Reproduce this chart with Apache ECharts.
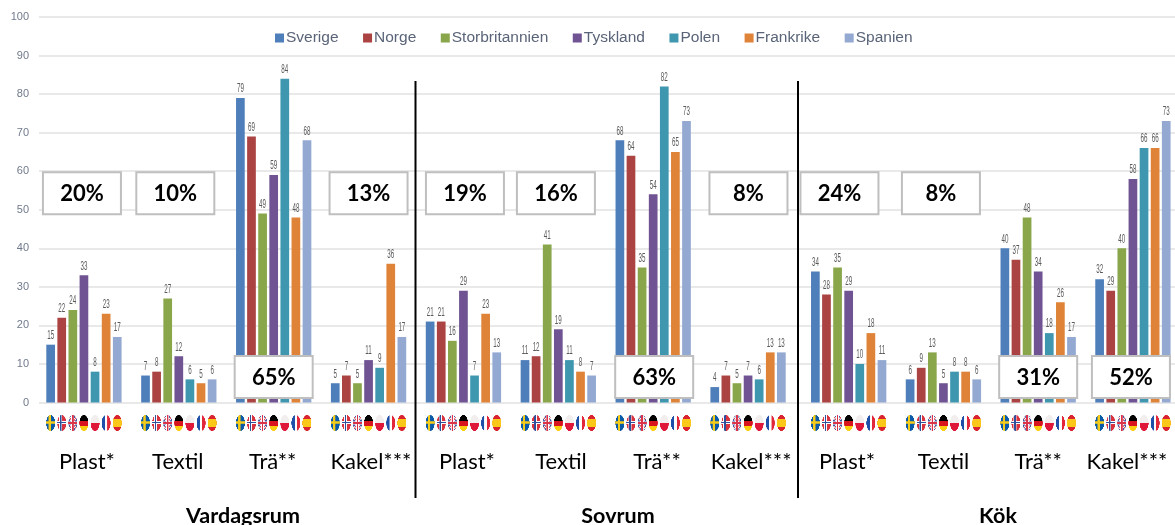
<!DOCTYPE html>
<html>
<head>
<meta charset="utf-8">
<style>html,body{margin:0;padding:0;background:#fff}#chart{width:1175px;height:525px}</style>
<script src="https://cdn.jsdelivr.net/npm/echarts@6/dist/echarts.min.js"></script>
</head>
<body>
<div id="chart"></div>
<script>
// Golvmaterial per rum och land
const materials = ['Plast*','Textil','Trä**','Kakel***','Plast*','Textil','Trä**','Kakel***','Plast*','Textil','Trä**','Kakel***'];
const sverige = [15,7,79,5,21,11,68,4,34,6,40,32];
const norge = [22,8,69,7,21,12,64,7,28,9,37,29];
const storbritannien = [24,27,49,5,16,41,35,5,35,13,48,40];
const tyskland = [33,12,59,11,29,19,54,7,29,5,34,58];
const polen = [8,6,84,9,7,11,82,6,10,8,18,66];
const frankrike = [23,5,48,36,23,8,65,13,18,8,26,66];
const spanien = [17,6,68,17,13,7,73,13,11,6,17,73];
const shares = ['20%','10%','65%','13%','19%','16%','63%','8%','24%','8%','31%','52%'];
const rooms = ['Vardagsrum','Sovrum','Kök'];

const countries = [
  ['Sverige', sverige, '#4f7fbb'],
  ['Norge', norge, '#aa4342'],
  ['Storbritannien', storbritannien, '#89a64a'],
  ['Tyskland', tyskland, '#6f5392'],
  ['Polen', polen, '#3f97af'],
  ['Frankrike', frankrike, '#df8338'],
  ['Spanien', spanien, '#93a9d1']
];

// Placering av procentrutorna: höjd på y-axeln och sidled i pixlar
const boxLevel = [54.3,54.3,6.6,54.3,54.3,54.3,6.6,54.3,54.3,54.3,6.6,6.6];
const boxShift = [-2,-3.5,0,0,1.5,-2.4,1,0.4,-9.2,-2.5,0,-2];
// Materialnamnens förskjutning i sidled, i pixlar
const labelShift = [3,-1,-1,2.4,3.5,2.6,3.8,3,-1.7,0,0,-6];
const roomLabelX = [243,618,998];
const dividerX = [415.5,798];

const BAR = 8.7, STEP = 11.1;
const PLOT_TOP = 17, PLOT_HEIGHT = 385.5;

// Köksdelen ligger något förskjuten, så den får ett eget koordinatsystem
const panels = [
  { from: 0, to: 8, left: 36.5, width: 759 },
  { from: 8, to: 12, left: 801.3, width: 379 }
];

// Runda flaggor ritas på en egen canvas och används som bilder
function flag(paint) {
  const c = document.createElement('canvas');
  c.width = 36; c.height = 64;
  const g = c.getContext('2d');
  g.beginPath();
  g.ellipse(18, 32, 18, 32, 0, 0, Math.PI * 2);
  g.clip();
  paint(g);
  return c;
}
function cross(g, color, w) {
  g.fillStyle = color;
  g.fillRect(14 - w / 2, 0, w, 64);
  g.fillRect(0, 30 - w / 2, 36, w);
}
const flags = [
  flag(g => { g.fillStyle = '#0b5aa8'; g.fillRect(0,0,36,64); cross(g,'#f5cc1a',9); }),
  flag(g => { g.fillStyle = '#d8333f'; g.fillRect(0,0,36,64); cross(g,'#ffffff',12); cross(g,'#2f4f9a',6); }),
  flag(g => {
    g.fillStyle = '#45589f'; g.fillRect(0,0,36,64);
    g.strokeStyle = '#f4f4f8'; g.lineWidth = 8;
    g.beginPath(); g.moveTo(0,0); g.lineTo(36,64); g.moveTo(36,0); g.lineTo(0,64); g.stroke();
    g.strokeStyle = '#d9495a'; g.lineWidth = 3; g.stroke();
    g.fillStyle = '#fff'; g.fillRect(12,0,12,64); g.fillRect(0,26,36,12);
    g.fillStyle = '#d9344a'; g.fillRect(15,0,6,64); g.fillRect(0,29,36,6);
  }),
  flag(g => {
    g.fillStyle = '#000'; g.fillRect(0,0,36,24);
    g.fillStyle = '#d8151f'; g.fillRect(0,24,36,20);
    g.fillStyle = '#fbcf10'; g.fillRect(0,44,36,20);
  }),
  flag(g => {
    g.fillStyle = '#f3eeee'; g.fillRect(0,0,36,32);
    g.fillStyle = '#df1738'; g.fillRect(0,32,36,32);
  }),
  flag(g => {
    g.fillStyle = '#1f4fa8'; g.fillRect(0,0,13,64);
    g.fillStyle = '#fff'; g.fillRect(13,0,10,64);
    g.fillStyle = '#e2273a'; g.fillRect(23,0,13,64);
  }),
  flag(g => {
    g.fillStyle = '#d9232e'; g.fillRect(0,0,36,64);
    g.fillStyle = '#fbc81a'; g.fillRect(0,17,36,30);
  })
];

// Axel 0 bär bara stödlinjerna över hela bredden; axel 1 och 2 bär staplarna
function panelSeries(panel, index) {
  const axes = { xAxisIndex: index + 1, yAxisIndex: index + 1 };
  const cats = materials.slice(panel.from, panel.to);

  const bars = countries.map(([name, values, color]) => ({
    name,
    type: 'bar',
    ...axes,
    data: values.slice(panel.from, panel.to),
    barWidth: BAR,
    barGap: ((STEP - BAR) / BAR * 100).toFixed(1) + '%',
    itemStyle: { color },
    z: 3
  }));

  // Värdetexterna är smala och höga, därför en egen serie med skalad text
  const valueRows = [];
  cats.forEach((_, c) => countries.forEach(([, values], k) => {
    valueRows.push([c, values[panel.from + c], k]);
  }));
  const valueLabels = {
    type: 'custom',
    silent: true,
    z: 5,
    ...axes,
    data: valueRows,
    encode: { x: 0, y: 1 },
    renderItem(params, api) {
      const v = api.value(1);
      const p = api.coord([api.value(0), v]);
      return {
        type: 'text',
        x: p[0] + (api.value(2) - 3) * STEP,
        y: p[1] - 3,
        scaleX: 0.52,
        style: { text: String(v), fill: '#595959', font: '12px "Liberation Sans"', align: 'center', verticalAlign: 'bottom' }
      };
    }
  };

  const flagMarks = {
    type: 'custom',
    silent: true,
    z: 4,
    ...axes,
    data: cats.map((_, c) => [c, 0]),
    encode: { x: 0, y: 1 },
    renderItem(params, api) {
      const p = api.coord([api.value(0), 0]);
      return {
        type: 'group',
        children: flags.map((image, k) => ({
          type: 'image',
          style: { image, x: p[0] + (k - 3) * STEP - 4.5, y: p[1] + 12.5, width: 9, height: 16 }
        }))
      };
    }
  };

  const boxes = {
    type: 'custom',
    silent: true,
    z: 20,
    ...axes,
    data: cats.map((_, c) => [c, boxLevel[panel.from + c]]),
    encode: { x: 0, y: 1 },
    renderItem(params, api) {
      const i = panel.from + params.dataIndex;
      const p = api.coord([api.value(0), api.value(1)]);
      const x = p[0] + boxShift[i];
      return {
        type: 'group',
        children: [
          { type: 'rect', shape: { x: x - 39, y: p[1] - 21, width: 78, height: 42 },
            style: { fill: '#fff', stroke: '#bfbfbf', lineWidth: 2 } },
          { type: 'text', x, y: p[1] + 1,
            style: { text: shares[i], fill: '#000', font: 'bold 22px Lato', align: 'center', verticalAlign: 'middle' } }
        ]
      };
    }
  };

  return [...bars, valueLabels, flagMarks, boxes];
}

// Kategorier med inre marginal som flyttar namnet i sidled
function categoryItems(panel) {
  return materials.slice(panel.from, panel.to).map((value, c) => {
    const s = labelShift[panel.from + c];
    return { value, textStyle: { padding: [0, s < 0 ? -2 * s : 0, 0, s > 0 ? 2 * s : 0] } };
  });
}

const chart = echarts.init(document.getElementById('chart'), null, { renderer: 'canvas' });
chart.setOption({
  animation: false,
  backgroundColor: '#fff',
  legend: {
    top: 25,
    left: 270,
    itemWidth: 9,
    itemHeight: 9,
    itemGap: 24.5,
    icon: 'rect',
    data: countries.map(c => c[0]),
    textStyle: { fontFamily: '"Liberation Sans"', fontSize: 15.5, color: '#5a6478', padding: [0, 0, 0, -3] }
  },
  grid: [
    { left: 39, top: PLOT_TOP, width: 1136, height: PLOT_HEIGHT, outerBoundsMode: 'none' },
    ...panels.map(p => ({ left: p.left, top: PLOT_TOP, width: p.width, height: PLOT_HEIGHT, outerBoundsMode: 'none' }))
  ],
  xAxis: [
    { type: 'category', gridIndex: 0, data: [''], show: false },
    ...panels.map((p, i) => ({
      type: 'category',
      gridIndex: i + 1,
      data: categoryItems(p),
      axisTick: { show: false },
      axisLine: { show: false },
      axisLabel: { interval: 0, margin: 48, fontFamily: 'Lato', fontSize: 22, color: '#000' }
    }))
  ],
  yAxis: [
    {
      type: 'value',
      gridIndex: 0,
      min: 0,
      max: 100,
      interval: 10,
      axisLine: { show: false },
      axisTick: { show: false },
      axisLabel: { margin: 10, fontFamily: '"Liberation Sans"', fontSize: 11, color: '#707a8c' },
      splitLine: { lineStyle: { color: '#e2e2e2', width: 1.5 } }
    },
    ...panels.map((p, i) => ({
      type: 'value', gridIndex: i + 1, min: 0, max: 100, interval: 10, show: false, splitLine: { show: false }
    }))
  ],
  series: panels.flatMap(panelSeries),
  graphic: [
    ...dividerX.map(x => ({
      type: 'line', z: 30, silent: true,
      shape: { x1: x, y1: 81, x2: x, y2: 498 },
      style: { stroke: '#000', lineWidth: 2 }
    })),
    ...rooms.map((room, i) => ({
      type: 'text', z: 30, silent: true,
      x: roomLabelX[i], y: 516,
      style: { text: room, fill: '#000', font: 'bold 21.5px Lato', align: 'center', verticalAlign: 'middle' }
    }))
  ]
});
</script>
</body>
</html>
